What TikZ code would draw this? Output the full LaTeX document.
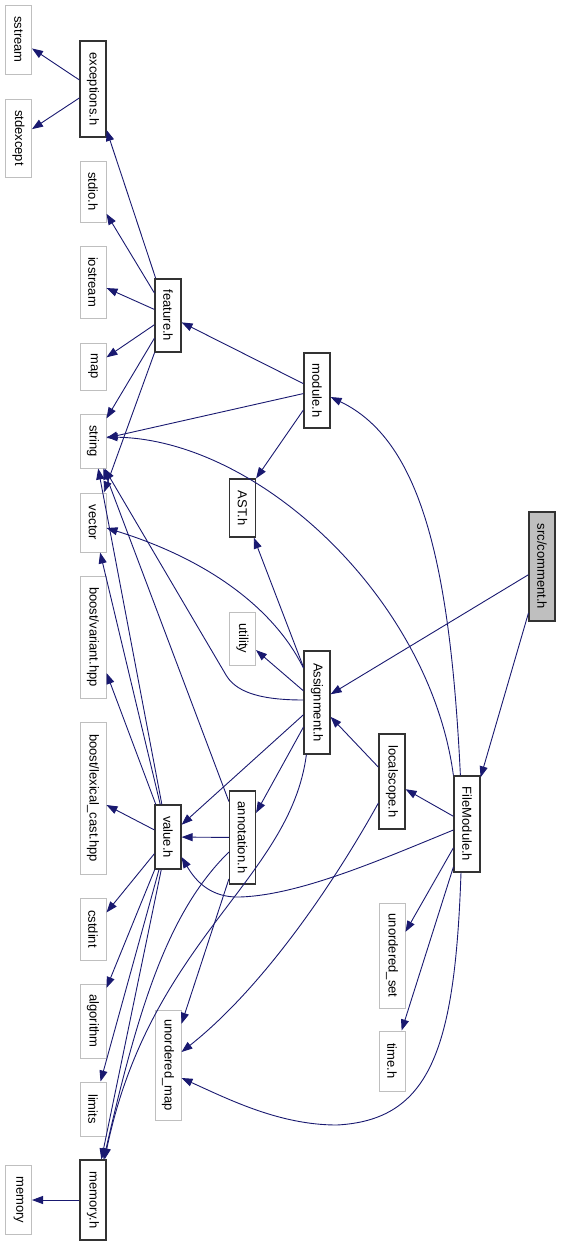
\documentclass[tikz,border=0pt]{standalone}
\usepackage{fontspec}
\setmainfont{Liberation Sans}
\usepackage{tikz}
\usetikzlibrary{arrows.meta,positioning}
\definecolor{midnightblue}{HTML}{191970}
\tikzstyle{sys} = [rectangle, draw=gray!50, line width=1pt, fill=white,
    minimum width=26pt, inner sep=0pt, font=\fontsize{13}{15}\selectfont]
\tikzstyle{hdr} = [sys, draw=black!80, line width=1.2pt]
\tikzstyle{srcfile} = [hdr, fill=gray!50]
\tikzstyle{dep} = [draw=midnightblue, line width=0.9pt,
    -{Triangle[length=11pt,width=8pt]}]
\newcommand{\lbl}[1]{\rotatebox{-90}{#1}}

\begin{document}
\begin{tikzpicture}[x=1pt, y=-1pt]
  \useasboundingbox (0,0) rectangle (560,1245);
  % Place nodes
  \node [sys, minimum height=69pt] (sstream) at (18.5,39.5) {\lbl{sstream}};
  \node [sys, below of=sstream, node distance=98.5pt, minimum height=78pt] (stdexcept)
  {\lbl{stdexcept}};
  \node [hdr, minimum height=96pt] (exceptions) at (93,89) {\lbl{exceptions.h}};
  \node [sys, below of=exceptions, node distance=102.5pt, minimum height=61pt] (stdio)
  {\lbl{stdio.h}};
  \node [sys, below of=stdio, node distance=90.5pt, minimum height=72pt] (iostream)
  {\lbl{iostream}};
  \node [sys, below of=iostream, node distance=84.5pt, minimum height=47pt] (map)
  {\lbl{map}};
  \node [sys, below of=map, node distance=74.5pt, minimum height=54pt] (string)
  {\lbl{string}};
  \node [sys, below of=string, node distance=81.5pt, minimum height=59pt] (vector)
  {\lbl{vector}};
  \node [sys, below of=vector, node distance=114.5pt, minimum height=122pt] (variant)
  {\lbl{boost/variant.hpp}};
  \node [sys, below of=variant, node distance=161pt, minimum height=152pt] (lexicalcast)
  {\lbl{boost/lexical\_cast.hpp}};
  \node [sys, below of=lexicalcast, node distance=131pt, minimum height=62pt] (cstdint)
  {\lbl{cstdint}};
  \node [sys, below of=cstdint, node distance=92pt, minimum height=74pt] (algorithm)
  {\lbl{algorithm}};
  \node [sys, below of=algorithm, node distance=88pt, minimum height=54pt] (limits)
  {\lbl{limits}};
  \node [hdr, below of=limits, node distance=91pt, minimum height=80pt] (memoryh)
  {\lbl{memory.h}};
  \node [sys, left of=memoryh, node distance=74.5pt, minimum height=69pt] (memory)
  {\lbl{memory}};
  \node [hdr, minimum height=73pt] (feature) at (168,315.5) {\lbl{feature.h}};
  \node [hdr, below of=feature, node distance=521.5pt, minimum height=64pt] (value)
  {\lbl{value.h}};
  \node [sys, below of=value, node distance=228pt, minimum height=110pt] (unorderedmap)
  {\lbl{unordered\_map}};
  \node [hdr, minimum height=58pt] (ast) at (242.5,508) {\lbl{AST.h}};
  \node [sys, below of=ast, node distance=130.5pt, minimum height=53pt] (utility)
  {\lbl{utility}};
  \node [hdr, below of=utility, node distance=199pt, minimum height=93pt] (annotation)
  {\lbl{annotation.h}};
  \node [hdr, minimum height=75pt] (module) at (317,390.5) {\lbl{module.h}};
  \node [hdr, below of=module, node distance=312pt, minimum height=103pt] (assignment)
  {\lbl{Assignment.h}};
  \node [hdr, minimum height=95pt] (localscope) at (392,781.5) {\lbl{localscope.h}};
  \node [sys, below of=localscope, node distance=174pt, minimum height=105pt] (unorderedset)
  {\lbl{unordered\_set}};
  \node [sys, below of=unorderedset, node distance=105.5pt, minimum height=60pt] (timeh)
  {\lbl{time.h}};
  \node [hdr, minimum height=96pt] (filemodule) at (467,824) {\lbl{FileModule.h}};
  \node [srcfile, minimum height=109pt] (comment) at (542,566.5) {\lbl{src/comment.h}};
  % Draw edges
  \draw [dep] (exceptions) -- (sstream);
  \draw [dep] (exceptions) -- (stdexcept);
  \draw [dep] (feature) -- (exceptions);
  \draw [dep] (feature) -- (stdio);
  \draw [dep] (feature) -- (iostream);
  \draw [dep] (feature) -- (map);
  \draw [dep] (feature) -- (string);
  \draw [dep] (feature) -- (vector);
  \draw [dep] (module) -- (feature);
  \draw [dep] (module) -- (string);
  \draw [dep] (module.west |- 0,410) -- (ast.north east);
  \draw [dep] (filemodule.north west) .. controls (430,600) and (260,440) .. (string.east |- 0,437);
  \draw [dep] ([xshift=7pt]filemodule.north west) .. controls (450,560) and (420,440) .. (module.east |- 0,397);
  \draw [dep] (comment) -- (assignment);
  \draw [dep] (comment) -- (filemodule);
  \draw [dep] (assignment) -- (ast);
  \draw [dep] (assignment) -- (utility);
  \draw [dep] (assignment) -- (value);
  \draw [dep] (assignment) -- (annotation);
  \draw [dep] (assignment.west |- 0,700) .. controls (255,700) and (235,690) .. (226,675) -- ([xshift=-2pt]string.south east);
  \draw [dep] (assignment.west |- 0,668) .. controls (275,610) and (210,560) .. (vector.east |- 0,528);
  \draw [dep] ([xshift=3pt]assignment.south west) .. controls (290,880) and (150,940) .. ([xshift=-2pt]memoryh.north east);
  \draw [dep] (annotation) -- (value);
  \draw [dep] (annotation) -- (string);
  \draw [dep] (annotation) -- (unorderedmap);
  \draw [dep] (annotation.west |- 0,852) .. controls (170,910) and (140,1000) .. ([xshift=-3pt]memoryh.north east);
  \draw [dep] (localscope) -- (assignment);
  \draw [dep] (localscope.west |- 0,803) .. controls (330,890) and (260,990) .. (unorderedmap.east |- 0,1052);
  \draw [dep] (filemodule) -- (localscope);
  \draw [dep] (filemodule) -- (unorderedset);
  \draw [dep] (filemodule) -- (timeh);
  \draw [dep] (filemodule.west |- 0,830) .. controls (380,860) and (300,895) .. (240,897)
    .. controls (210,898) and (195,880) .. (value.east |- 0,857);
  \draw [dep] (filemodule.south -| 461,0) .. controls (455,1050) and (430,1120) .. (337,1125)
    .. controls (280,1125) and (230,1100) .. (unorderedmap.east |- 0,1078);
  \draw [dep] (value) -- (variant);
  \draw [dep] (value) -- (vector);
  \draw [dep] (value) -- (string);
  \draw [dep] (value) -- (lexicalcast);
  \draw [dep] (value) -- (cstdint);
  \draw [dep] (value) -- (algorithm);
  \draw [dep] (value) -- (limits);
  \draw [dep] (value) -- (memoryh);
  \draw [dep] (memoryh) -- (memory);
\end{tikzpicture}
\end{document}
